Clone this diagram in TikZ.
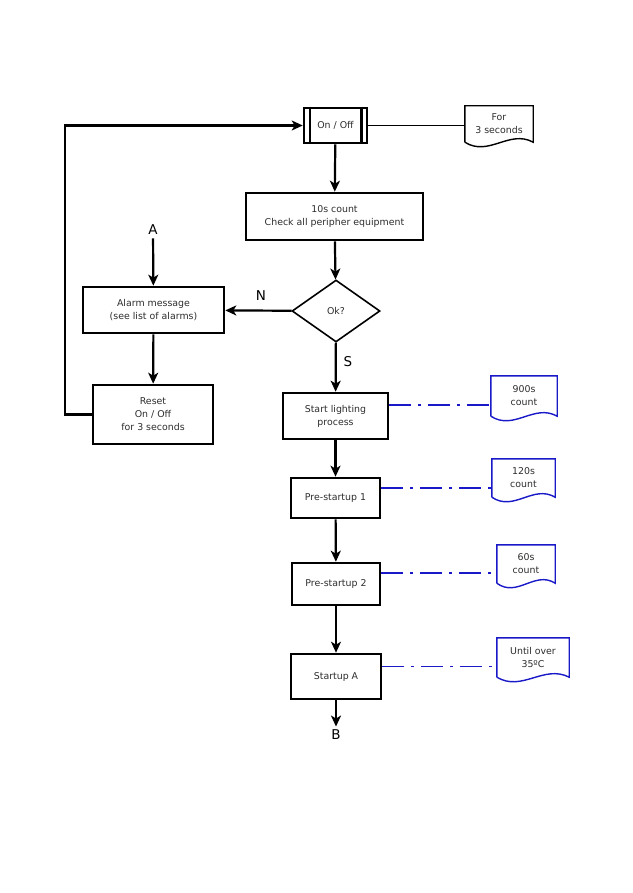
\documentclass[tikz,border=0pt]{standalone}
\usepackage{fontspec}
\setmainfont{DejaVu Sans}
\usetikzlibrary{arrows.meta,shapes.geometric,calc}
\definecolor{docblue}{RGB}{25,25,200}
\definecolor{txtgray}{RGB}{45,45,45}

% document symbol drawn round a named node: #1 name, #2 colour
\newcommand{\docoutline}[2]{%
  \draw[#2, line width=1.4pt] (#1.south west) -- (#1.north west) -- (#1.north east) -- (#1.south east)
    .. controls ($(#1.south west)!0.65!(#1.south east)+(0,-13)$) and ($(#1.south west)!0.35!(#1.south east)+(0,15)$) .. (#1.south west);}

\begin{document}
\begin{tikzpicture}[x=1pt, y=-1pt,
  box/.style={draw, line width=2.6pt, align=center, text=txtgray, font=\fontsize{9.4}{13}\selectfont, inner sep=2pt},
  docnode/.style={align=center, text=txtgray, font=\fontsize{9.4}{13}\selectfont, inner sep=1pt},
  letter/.style={font=\fontsize{13.5}{14}\selectfont},
  arr/.style={line width=2.2pt, -{Stealth[length=11pt, width=10pt, inset=3pt]}},
  link/.style={docblue, line width=1.7pt, dash pattern=on 22pt off 7pt on 3pt off 7pt}]
  \useasboundingbox (0,0) rectangle (632,893);
  % main column
  \node[box, minimum width=63pt, minimum height=35pt] (onoff) at (335.5,125.5) {On / Off};
  \draw[line width=2.4pt] ([xshift=7pt]onoff.north west) -- ([xshift=7pt]onoff.south west);
  \draw[line width=2.4pt] ([xshift=-7pt]onoff.north east) -- ([xshift=-7pt]onoff.south east);
  \node[box, minimum width=177pt, minimum height=47pt] (check) at (334.5,216.5) {10s count\\Check all peripher equipment};
  \node[box, diamond, line width=1.6pt, minimum width=88pt, minimum height=62pt, inner sep=0pt] (ok) at (336,311) {Ok?};
  \node[box, minimum width=105pt, minimum height=46pt] (start) at (335.5,416) {Start lighting\\process};
  \node[box, minimum width=89pt, minimum height=40pt] (pre1) at (335.5,498) {Pre-startup 1};
  \node[box, minimum width=88pt, minimum height=42pt] (pre2) at (336,584) {Pre-startup 2};
  \node[box, minimum width=90pt, minimum height=45pt] (startA) at (336,676.5) {Startup A};
  % left column
  \node[box, minimum width=141pt, minimum height=46pt] (alarm) at (153.5,310) {Alarm message\\(see list of alarms)};
  \node[box, minimum width=120pt, minimum height=59pt] (reset) at (153,414.5) {Reset\\On / Off\\for 3 seconds};
  % letters
  \node[letter] (A) at (153,230) {A};
  \node[letter] (N) at (261,296) {N};
  \node[letter] (S) at (348,362) {S};
  \node[letter] (B) at (336,735) {B};
  % side notes
  \node[docnode, minimum width=68pt, minimum height=36pt] (for3) at (499,124) {For\\3 seconds};
  \node[docnode, minimum width=66pt, minimum height=40pt] (d900) at (524,396) {900s\\count};
  \node[docnode, minimum width=63pt, minimum height=38pt] (d120) at (523.5,478) {120s\\count};
  \node[docnode, minimum width=58pt, minimum height=38pt] (d60) at (526,564) {60s\\count};
  \node[docnode, minimum width=72pt, minimum height=39pt] (dtemp) at (533,657.5) {Until over\\35ºC};
  \docoutline{for3}{black}
  \docoutline{d900}{docblue}
  \docoutline{d120}{docblue}
  \docoutline{d60}{docblue}
  \docoutline{dtemp}{docblue}
  % arrows
  \draw[arr] (onoff) -- (check);
  \draw[arr] (check) -- (ok);
  \draw[arr] (ok) -- (alarm);
  \draw[arr] (ok) -- (start);
  \draw[arr] (A) -- (alarm);
  \draw[arr] (alarm) -- (reset);
  \coordinate (loop) at (65,125.5);
  \draw[arr] (reset.west) -| (loop) -- (onoff.west);
  \draw[arr] (start) -- (pre1);
  \draw[arr] (pre1) -- (pre2);
  \draw[arr] (pre2) -- (startA);
  \draw[arr] (startA) -- (B);
  \draw[line width=1.4pt] (onoff.east) -- (onoff.east -| for3.west);
  \draw[link] ([yshift=11pt]start.east) -- ([yshift=11pt]start.east -| d900.west);
  \draw[link] ([yshift=10pt]pre1.east) -- ([yshift=10pt]pre1.east -| d120.west);
  \draw[link] ([yshift=11pt]pre2.east) -- ([yshift=11pt]pre2.east -| d60.west);
  \draw[link] ([yshift=10pt]startA.east) -- ([yshift=10pt]startA.east -| dtemp.west);
\end{tikzpicture}
\end{document}
